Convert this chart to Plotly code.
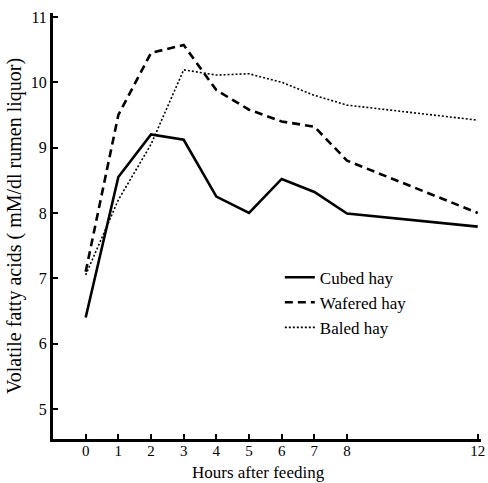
import plotly.graph_objects as go

hours = [0, 1, 2, 3, 4, 5, 6, 7, 8, 12]
cubed = [6.4, 8.55, 9.2, 9.12, 8.25, 8.0, 8.52, 8.32, 7.99, 7.79]
wafered = [7.1, 9.5, 10.45, 10.57, 9.88, 9.58, 9.4, 9.32, 8.8, 8.0]
baled = [7.05, 8.2, 9.05, 10.19, 10.11, 10.13, 10.0, 9.8, 9.65, 9.42]
x_ticks = [0, 1, 2, 3, 4, 5, 6, 7, 8, 12]
y_ticks = [5, 6, 7, 8, 9, 10, 11]

font = "Liberation Serif"
fig = go.Figure()
fig.add_trace(go.Scatter(x=hours, y=cubed, mode="lines", name="Cubed hay",
                         line=dict(color="black", width=2.6, dash="solid")))
fig.add_trace(go.Scatter(x=hours, y=wafered, mode="lines", name="Wafered hay",
                         line=dict(color="black", width=2.6, dash="8px,5px")))
fig.add_trace(go.Scatter(x=hours, y=baled, mode="lines", name="Baled hay",
                         line=dict(color="black", width=1.6, dash="2px,2px")))

fig.add_annotation(text="Hours after feeding", xref="paper", yref="paper",
                   x=0.479, y=-0.103, xanchor="center", yanchor="bottom",
                   showarrow=False, borderpad=0,
                   font=dict(size=17, family=font, color="black"))

fig.update_layout(
    width=488, height=483,
    margin=dict(l=53, r=7, t=13, b=44),
    paper_bgcolor="white", plot_bgcolor="white",
    font=dict(family=font, color="black", size=15),
    showlegend=True,
    legend=dict(x=0.53, y=0.421, xanchor="left", yanchor="top",
                bgcolor="rgba(0,0,0,0)", font=dict(size=17, family=font),
                tracegroupgap=0, itemwidth=30),
    xaxis=dict(range=[-1.0, 12.1], tickmode="array", tickvals=x_ticks,
               ticktext=[str(v) for v in x_ticks], automargin=False,
               ticklabelstandoff=-4,
               showgrid=False, zeroline=False, showline=True, linecolor="black",
               linewidth=3, ticks="inside", ticklen=5, tickwidth=2, tickcolor="black"),
    yaxis=dict(range=[4.54, 11.06], tickmode="array", tickvals=y_ticks,
               ticktext=[str(v) for v in y_ticks], automargin=False,
               showgrid=False, zeroline=False, showline=True, linecolor="black",
               linewidth=3, ticks="inside", ticklen=5, tickwidth=2, tickcolor="black",
               tickfont=dict(size=16),
               title=dict(text="Volatile fatty acids ( mM/dl rumen liquor)",
                          font=dict(size=20), standoff=4)),
)
fig.write_html("out.html")
